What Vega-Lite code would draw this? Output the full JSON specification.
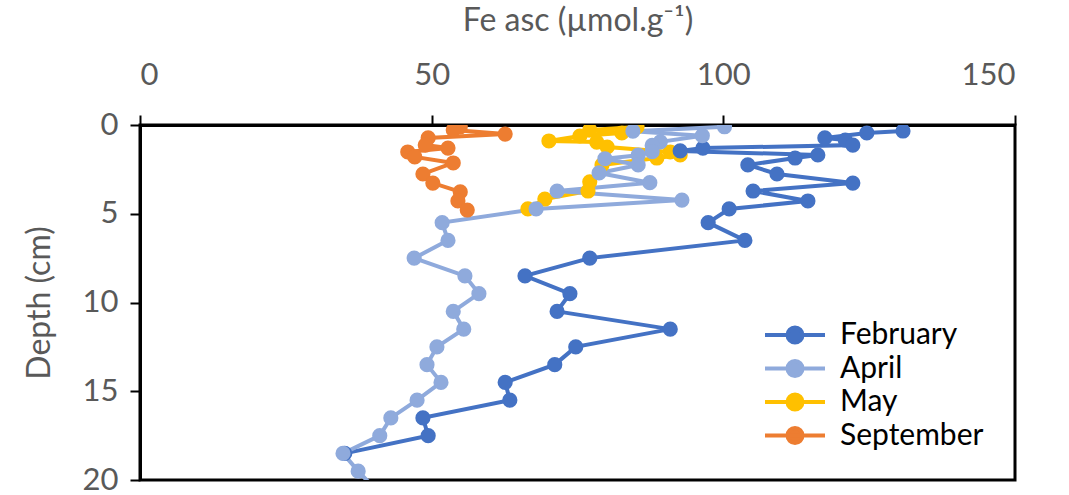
{
  "$schema": "https://vega.github.io/schema/vega-lite/v6.json",
  "autosize": {"type": "none"},
  "padding": {"left": 140, "top": 125, "right": 54, "bottom": 15},
  "width": 875,
  "height": 355,
  "background": "white",
  "config": {
    "font": "Lato",
    "view": {"stroke": "black", "strokeWidth": 3},
    "axis": {"grid": false, "labelColor": "#595959", "titleColor": "#595959", "labelFontSize": 31, "titleFontSize": 32, "titleFontWeight": "normal", "domainColor": "black", "domainWidth": 3, "tickColor": "black", "tickWidth": 2, "tickSize": 10}
  },
  "data": {"values": [
    {"s": "May", "d": 0.11, "x": 85.2}, {"s": "May", "d": 0.28, "x": 77.1}, {"s": "May", "d": 0.45, "x": 82.6}, {"s": "May", "d": 0.62, "x": 75.4}, {"s": "May", "d": 0.9, "x": 70.1}, {"s": "May", "d": 0.96, "x": 78.3}, {"s": "May", "d": 1.24, "x": 80.1}, {"s": "May", "d": 1.52, "x": 90.9}, {"s": "May", "d": 1.69, "x": 92.6}, {"s": "May", "d": 1.86, "x": 88.6}, {"s": "May", "d": 2.25, "x": 79.2}, {"s": "May", "d": 3.2, "x": 77.1}, {"s": "May", "d": 3.72, "x": 76.8}, {"s": "May", "d": 4.17, "x": 69.4}, {"s": "May", "d": 4.73, "x": 66.5},
    {"s": "September", "d": 0.11, "x": 54.9}, {"s": "September", "d": 0.28, "x": 53.7}, {"s": "September", "d": 0.51, "x": 62.6}, {"s": "September", "d": 0.73, "x": 49.4}, {"s": "September", "d": 1.13, "x": 48.9}, {"s": "September", "d": 1.3, "x": 52.8}, {"s": "September", "d": 1.52, "x": 45.9}, {"s": "September", "d": 1.8, "x": 47.1}, {"s": "September", "d": 2.14, "x": 53.7}, {"s": "September", "d": 2.76, "x": 48.5}, {"s": "September", "d": 3.27, "x": 50.2}, {"s": "September", "d": 3.77, "x": 54.9}, {"s": "September", "d": 4.28, "x": 54.5}, {"s": "September", "d": 4.79, "x": 56.1},
    {"s": "February", "d": 0.34, "x": 130.8}, {"s": "February", "d": 0.45, "x": 124.6}, {"s": "February", "d": 0.73, "x": 117.4}, {"s": "February", "d": 0.85, "x": 120.9}, {"s": "February", "d": 1.13, "x": 122.2}, {"s": "February", "d": 1.3, "x": 96.5}, {"s": "February", "d": 1.46, "x": 92.6}, {"s": "February", "d": 1.69, "x": 116.2}, {"s": "February", "d": 1.86, "x": 112.3}, {"s": "February", "d": 2.25, "x": 104.2}, {"s": "February", "d": 2.76, "x": 109.2}, {"s": "February", "d": 3.27, "x": 122.2}, {"s": "February", "d": 3.72, "x": 105.1}, {"s": "February", "d": 4.28, "x": 114.5}, {"s": "February", "d": 4.73, "x": 101.0}, {"s": "February", "d": 5.5, "x": 97.4}, {"s": "February", "d": 6.5, "x": 103.7}, {"s": "February", "d": 7.5, "x": 77.1}, {"s": "February", "d": 8.5, "x": 66.0}, {"s": "February", "d": 9.5, "x": 73.7}, {"s": "February", "d": 10.5, "x": 71.5}, {"s": "February", "d": 11.5, "x": 90.9}, {"s": "February", "d": 12.5, "x": 74.7}, {"s": "February", "d": 13.5, "x": 71.1}, {"s": "February", "d": 14.5, "x": 62.6}, {"s": "February", "d": 15.5, "x": 63.4}, {"s": "February", "d": 16.5, "x": 48.5}, {"s": "February", "d": 17.5, "x": 49.4}, {"s": "February", "d": 18.5, "x": 35.1},
    {"s": "April", "d": 0.1, "x": 100.2}, {"s": "April", "d": 0.35, "x": 84.5}, {"s": "April", "d": 0.6, "x": 96.4}, {"s": "April", "d": 0.95, "x": 89.2}, {"s": "April", "d": 1.15, "x": 87.8}, {"s": "April", "d": 1.5, "x": 87.8}, {"s": "April", "d": 1.7, "x": 85.4}, {"s": "April", "d": 1.9, "x": 79.7}, {"s": "April", "d": 2.25, "x": 85.4}, {"s": "April", "d": 2.7, "x": 78.7}, {"s": "April", "d": 3.25, "x": 87.4}, {"s": "April", "d": 3.72, "x": 71.5}, {"s": "April", "d": 4.23, "x": 92.9}, {"s": "April", "d": 4.73, "x": 67.9}, {"s": "April", "d": 5.5, "x": 51.8}, {"s": "April", "d": 6.5, "x": 52.8}, {"s": "April", "d": 7.5, "x": 47.0}, {"s": "April", "d": 8.5, "x": 55.7}, {"s": "April", "d": 9.5, "x": 58.1}, {"s": "April", "d": 10.5, "x": 53.7}, {"s": "April", "d": 11.5, "x": 55.5}, {"s": "April", "d": 12.5, "x": 50.9}, {"s": "April", "d": 13.5, "x": 49.2}, {"s": "April", "d": 14.5, "x": 51.6}, {"s": "April", "d": 15.5, "x": 47.5}, {"s": "April", "d": 16.5, "x": 43.0}, {"s": "April", "d": 17.5, "x": 41.1}, {"s": "April", "d": 18.5, "x": 34.8}, {"s": "April", "d": 19.5, "x": 37.4}, {"s": "April", "d": 20.5, "x": 40.3}
  ]},
  "encoding": {
    "x": {"field": "x", "type": "quantitative", "scale": {"domain": [0, 150], "nice": false},
      "axis": {"orient": "top", "values": [0, 50, 100, 150], "title": "Fe asc (µmol.g⁻¹)", "labelPadding": 24, "titlePadding": 22}},
    "y": {"field": "d", "type": "quantitative", "scale": {"domain": [0, 20], "reverse": true, "nice": false},
      "axis": {"values": [0, 5, 10, 15, 20], "title": "Depth (cm)", "labelPadding": 12, "titlePadding": 26}},
    "color": {"field": "s", "type": "nominal", "scale": {"domain": ["February", "April", "May", "September"], "range": ["#4472C4", "#8FAADC", "#FFC000", "#ED7D31"]}}
  },
  "layer": [
    {"mark": {"type": "line", "strokeWidth": 4, "clip": true},
     "encoding": {"order": {"field": "d", "type": "quantitative"},
       "color": {"field": "s", "type": "nominal", "scale": {"domain": ["February", "April", "May", "September"], "range": ["#4472C4", "#8FAADC", "#FFC000", "#ED7D31"]},
         "legend": {"orient": "none", "legendX": 640, "legendY": 195, "title": null, "padding": 0,
           "labelFontSize": 30, "labelColor": "black", "labelOffset": 30, "rowPadding": 1.5,
           "symbolType": "M-3,0L3,0M0.75,0A0.75,0.75,0,1,1,-0.75,0A0.75,0.75,0,1,1,0.75,0",
           "symbolSize": 400, "symbolStrokeWidth": 4,
           "encode": {"symbols": {"update": {"fill": {"scale": "color", "field": "value"}, "stroke": {"scale": "color", "field": "value"}, "opacity": {"value": 1}, "fillOpacity": {"value": 1}}}}}}}},
    {"mark": {"type": "point", "filled": true, "size": 230, "opacity": 1, "clip": true},
     "encoding": {"color": {"field": "s", "type": "nominal", "legend": null}}}
  ]
}
